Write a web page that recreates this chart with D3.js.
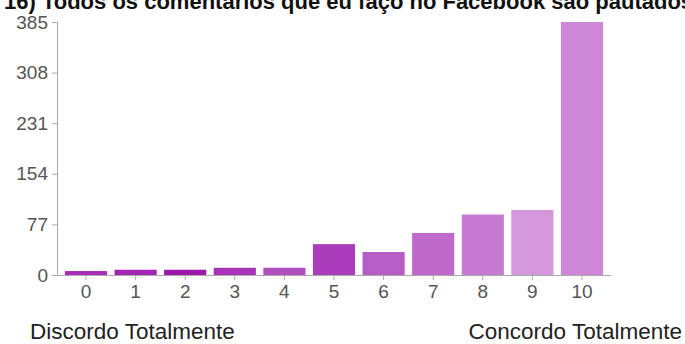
<!DOCTYPE html>
<html>
<head>
<meta charset="utf-8">
<script src="https://cdn.jsdelivr.net/npm/d3@7"></script>
<style>
  html, body { margin: 0; padding: 0; background: #fff; }
  svg { display: block; }
  text { font-family: "Liberation Sans", Arial, sans-serif; }
</style>
</head>
<body>
<svg id="chart" width="685" height="344"></svg>
<script>
// Answers on a 0–10 agreement scale
const categories = ["0", "1", "2", "3", "4", "5", "6", "7", "8", "9", "10"];
const counts = [6, 8, 8, 11, 11, 47, 35, 64, 92, 99, 385];
const barColors = ["#a82cb8", "#a425b4", "#9c18ab", "#a933b9", "#b04fc0", "#ab3dbc",
                   "#b65ec6", "#bf69ca", "#c77ad2", "#d497dc", "#cd87d6"];
const yTicks = [0, 77, 154, 231, 308, 385];
const title = "16) Todos os comentários que eu faço no Facebook são pautados";
const leftLabel = "Discordo Totalmente";
const rightLabel = "Concordo Totalmente";

const svg = d3.select("#chart");
const axisColor = "#aaaaaa";
const labelColor = "#555555";

const x = d3.scaleBand()
  .domain(categories)
  .range([57, 611])
  .paddingInner(0.15)
  .paddingOuter(0.16);

const y = d3.scaleLinear()
  .domain([0, 385])
  .range([275, 22]);

// Title (top edge sits just above the drawing area)
svg.append("text")
  .attr("x", 4)
  .attr("y", 9)
  .attr("font-size", 22)
  .attr("font-weight", "bold")
  .attr("fill", "#111")
  .text(title);

// Bars
svg.append("g")
  .selectAll("rect")
  .data(categories)
  .join("rect")
  .attr("x", d => x(d))
  .attr("width", x.bandwidth())
  .attr("y", (d, i) => y(counts[i]))
  .attr("height", (d, i) => y(0) - y(counts[i]))
  .attr("fill", (d, i) => barColors[i]);

// Y axis
const yAxis = svg.append("g")
  .attr("transform", "translate(57,0)")
  .call(d3.axisLeft(y).tickValues(yTicks).tickSize(5).tickPadding(4));
yAxis.select(".domain").attr("stroke", axisColor);
yAxis.selectAll(".tick line").attr("stroke", axisColor);
yAxis.selectAll(".tick text")
  .attr("fill", labelColor)
  .attr("font-size", 19)
  .attr("font-family", "Liberation Sans, Arial, sans-serif");

// X axis
const xAxis = svg.append("g")
  .attr("transform", "translate(0,275)")
  .call(d3.axisBottom(x).tickSize(5).tickSizeOuter(0).tickPadding(5));
xAxis.select(".domain").attr("stroke", axisColor).attr("d", "M52,0.5H611");
xAxis.selectAll(".tick line").attr("stroke", axisColor);
xAxis.selectAll(".tick text")
  .attr("fill", labelColor)
  .attr("font-size", 19)
  .attr("font-family", "Liberation Sans, Arial, sans-serif");

// Scale end labels
svg.append("text")
  .attr("x", 30)
  .attr("y", 339)
  .attr("font-size", 22.5)
  .attr("fill", "#222")
  .text(leftLabel);

svg.append("text")
  .attr("x", 682)
  .attr("y", 339)
  .attr("text-anchor", "end")
  .attr("font-size", 22.5)
  .attr("fill", "#222")
  .text(rightLabel);
</script>
</body>
</html>
